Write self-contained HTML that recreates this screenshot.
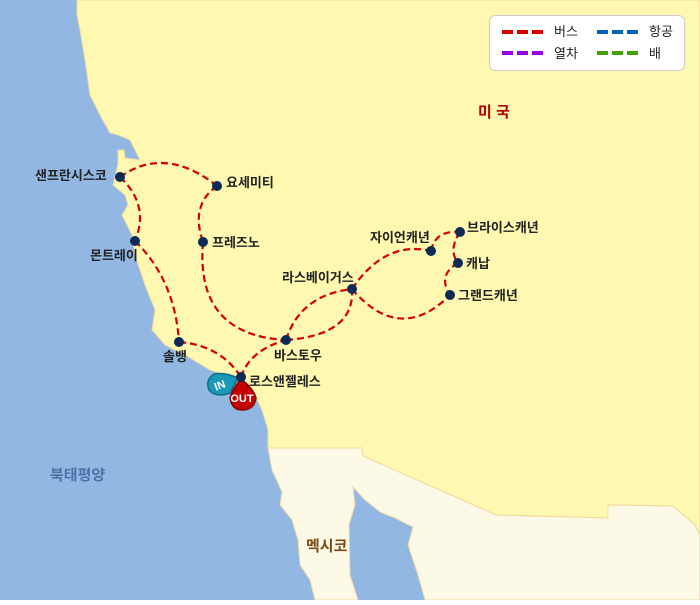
<!DOCTYPE html>
<html><head><meta charset="utf-8"><style>
body{margin:0;width:700px;height:600px;overflow:hidden;font-family:"Liberation Sans","Noto Sans CJK KR",sans-serif}
</style></head><body>
<svg width="700" height="600" viewBox="0 0 700 600" xmlns="http://www.w3.org/2000/svg" font-family="Liberation Sans, Noto Sans CJK KR, sans-serif">
<rect width="700" height="600" fill="#93b7e3"/>
<!-- USA -->
<path d="M77,0 L700,0 L700,535 L695,525 L673,506 L608,505 L608,518 L496,515 L363,456 L362,448 L268,448 L268,430 L262,410 L255,395 L240,380 L210,370 L185,355 L165,345 L152,330 L155,310 L145,285 L135,255 L132,235 L122,215 L128,205 L125,195 L113,185 L118,165 L118,150 L124,150 L125,158 L140,160 L130,140 L118,135 L110,133 L100,115 L90,95 L85,60 L80,30 L77,15 Z" fill="#fff8b0" stroke="#f0d8a0" stroke-width="1"/>
<!-- Mexico -->
<path d="M268,448 L362,448 L363,456 L496,515 L608,518 L608,505 L673,506 L695,525 L700,535 L700,600 L425,600 L418,575 L408,545 L413,527 L395,518 L380,512 L365,500 L353,487 L355,505 L349,525 L350,575 L358,600 L315,600 L310,580 L300,565 L298,540 L292,520 L280,505 L282,492 L272,470 Z" fill="#fcfae6" stroke="#f0d8a0" stroke-width="1"/>
<g fill="none" stroke="#d40000" stroke-width="2.2" stroke-dasharray="7,4">
<path d="M120,177 Q165,145 217,186"/>
<path d="M120,177 Q150,205 135,241"/>
<path d="M135,241 Q175,280 179,342"/>
<path d="M217,186 Q190,205 203,242"/>
<path d="M203,242 Q195,335 286,340"/>
<path d="M179,342 Q220,345 241,377"/>
<path d="M241,377 Q250,350 286,340"/>
<path d="M286,340 Q300,295 352,289"/>
<path d="M286,340 Q355,335 352,289"/>
<path d="M352,289 Q385,240 431,251"/>
<path d="M352,289 Q400,345 450,295"/>
<path d="M431,251 Q435,230 460,232"/>
<path d="M460,232 Q448,250 458,263"/>
<path d="M458,263 Q437,275 450,295"/>
</g>
<g fill="#0b2a55">
<circle cx="120" cy="177" r="5"/><circle cx="217" cy="186" r="5"/><circle cx="203" cy="242" r="5"/>
<circle cx="135" cy="241" r="5"/><circle cx="179" cy="342" r="5"/><circle cx="286" cy="340" r="5"/>
<circle cx="352" cy="289" r="5"/><circle cx="431" cy="251" r="5"/><circle cx="460" cy="232" r="5"/>
<circle cx="458" cy="263" r="5"/><circle cx="450" cy="295" r="5"/>
</g>
<path d="M238,378 Q225,372 214,374 Q205,380 209,390 Q216,398 230,393 Z" fill="#1b98b8" stroke="#0b6f88" stroke-width="1.5"/>
<text x="220" y="389" font-size="11" font-weight="bold" fill="#fff" text-anchor="middle" transform="rotate(-20 220 386)">IN</text>
<path d="M241,379 Q232,390 230,398 Q232,410 242,410 Q254,410 256,398 Q253,388 241,379 Z" fill="#c40000" stroke="#8a0000" stroke-width="1.5"/>
<text x="242" y="402" font-size="11" font-weight="bold" fill="#fff" text-anchor="middle">OUT</text>
<circle cx="241" cy="377" r="5" fill="#0b2a55"/>
<g font-size="13" font-weight="bold" fill="#222">
<text x="35" y="180">샌프란시스코</text>
<text x="226" y="187">요세미티</text>
<text x="212" y="247">프레즈노</text>
<text x="90" y="260">몬트레이</text>
<text x="163" y="361">솔뱅</text>
<text x="274" y="360">바스토우</text>
<text x="249" y="386">로스앤젤레스</text>
<text x="282" y="282">라스베이거스</text>
<text x="370" y="242">자이언캐년</text>
<text x="467" y="232">브라이스캐년</text>
<text x="466" y="268">캐납</text>
<text x="458" y="300">그랜드캐년</text>
</g>
<text x="478" y="117" font-size="15" font-weight="bold" fill="#b00000">미 국</text>
<text x="50" y="480" font-size="15" font-weight="bold" fill="#4a73a8">북태평양</text>
<text x="306" y="551" font-size="15" font-weight="bold" fill="#7a4a1a">멕시코</text>
<rect x="489.5" y="15.5" width="195" height="55" rx="6" fill="#fff" stroke="#ccc"/>
<g stroke-width="4" stroke-dasharray="11,4">
<line x1="502" y1="32" x2="545" y2="32" stroke="#d40000"/>
<line x1="502" y1="53" x2="545" y2="53" stroke="#9b00e0"/>
<line x1="597" y1="32" x2="640" y2="32" stroke="#0060c0"/>
<line x1="597" y1="53" x2="640" y2="53" stroke="#44a000"/>
</g>
<g font-size="13" fill="#222">
<text x="554" y="36">버스</text><text x="554" y="58">열차</text>
<text x="649" y="36">항공</text><text x="649" y="58">배</text>
</g>
</svg>
</body></html>
